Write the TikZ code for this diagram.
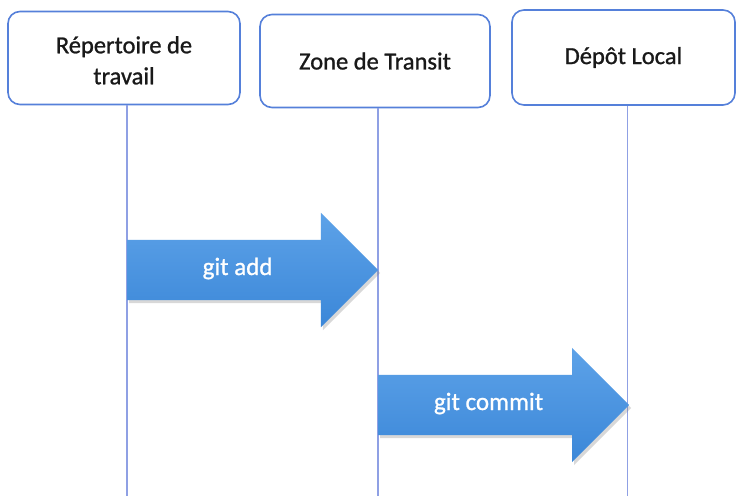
\documentclass[tikz,border=0pt]{standalone}
\usepackage{fontspec}
\setmainfont{Carlito}
\newfontfamily\boxfont[FakeBold=1]{Carlito}
\usetikzlibrary{shapes.arrows,shadows}
\definecolor{boxblue}{HTML}{5580DA}
\definecolor{lineblue}{HTML}{8FA0E4}
\definecolor{arrowtop}{HTML}{5DA2E8}
\definecolor{arrowbot}{HTML}{3B87D8}
\tikzset{
  zone/.style={draw=boxblue,line width=1.6pt,rounded corners=12pt,fill=white,
    align=center,text=black!90,font=\boxfont\fontsize{24.5}{31}\selectfont},
  lifeline/.style={lineblue,line width=1.2pt},
  gitarrow/.style={single arrow,single arrow head extend=27pt,minimum height=251pt,
    inner ysep=20pt,text height=15pt,text depth=5pt,anchor=tail,
    top color=arrowtop,bottom color=arrowbot,text=white,font=\boxfont\fontsize{25}{28}\selectfont,
    drop shadow={opacity=0.3,shadow xshift=2pt,shadow yshift=-3pt}}
}
\begin{document}
\begin{tikzpicture}[x=1pt,y=-1pt]
    \fill[white] (0,0) rectangle (740,496);
    \useasboundingbox (0,0) rectangle (740,496);
    % boxes
    \node[zone,minimum width=232pt,minimum height=93pt] (work) at (124,58) {\strut Répertoire de\\travail};
    \node[zone,minimum width=230pt,minimum height=93pt] (stage) at (375,61) {Zone de Transit};
    \node[zone,minimum width=223pt,minimum height=95pt] (repo) at (623.5,57.5) {Dépôt Local};
    \coordinate (bot) at (0,496);
    \draw[lifeline] ([xshift=3pt]work.south) -- ([xshift=3pt]work.south |- bot);
    \draw[lifeline] ([xshift=3pt]stage.south) -- ([xshift=3pt]stage.south |- bot);
    \draw[lifeline] ([xshift=4pt]repo.south) -- ([xshift=4pt]repo.south |- bot);
    % arrows
    \node[gitarrow] (add) at ([xshift=3pt]work.south |- 0,270) {git add};
    \node[gitarrow] (commit) at ([xshift=3pt]stage.south |- 0,405) {git commit};
\end{tikzpicture}
\end{document}
